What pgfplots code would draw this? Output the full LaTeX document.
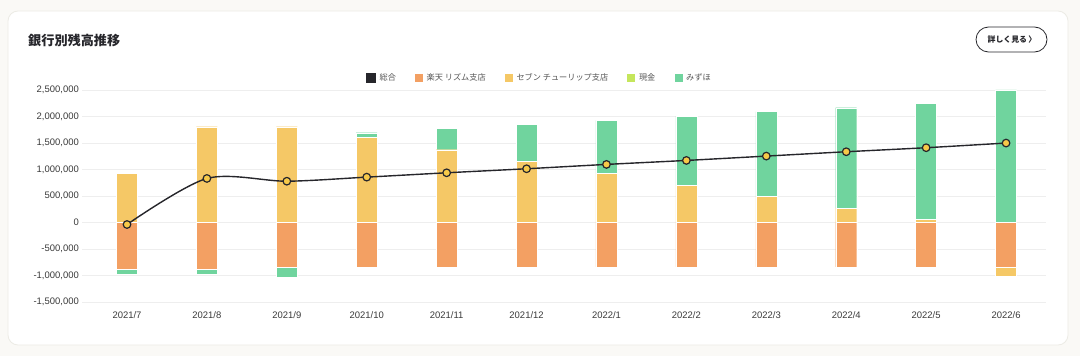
\documentclass[border=0pt]{standalone}
\usepackage{pgfplots}
\pgfplotsset{compat=1.18}
\usepackage{fontspec}
\setmainfont{Liberation Sans}
\newfontfamily\jp{Noto Sans CJK JP}
\definecolor{orng}{HTML}{F3A063}
\definecolor{yel}{HTML}{F5C866}
\definecolor{grn}{HTML}{70D49E}
\definecolor{lime}{HTML}{C5E65C}
\definecolor{darkc}{HTML}{26262B}
\definecolor{mk}{HTML}{F7C948}
\definecolor{gridc}{HTML}{EEEEEE}
\definecolor{tickc}{HTML}{3A3A3A}
\definecolor{legc}{HTML}{555555}
\definecolor{bgc}{HTML}{FAF9F6}
\definecolor{cardb}{HTML}{ECEBE5}
\pgfplotsset{
  base/.style={
    width=964bp, height=212bp, scale only axis,
    at={(82bp,54bp)}, anchor=south west,
    xmin=-0.563, xmax=11.5, ymin=-1500000, ymax=2500000,
    enlargelimits=false,
  },
  barbase/.style={base, ybar stacked, bar width=21bp},
}
\begin{document}
\begin{tikzpicture}[x=1bp,y=1bp]
\fill[bgc] (0,0) rectangle (1080,356);
\useasboundingbox (0,0) rectangle (1080,356);
\filldraw[fill=white, draw=cardb, line width=0.8bp, rounded corners=10bp] (8,11) rectangle (1068,345);
\node[anchor=west, inner sep=0pt, font=\jp\bfseries\fontsize{13.2}{15}\selectfont, text=darkc] at (28,316) {銀行別残高推移};
\draw[rounded corners=12.5bp, line width=0.8bp, color=darkc] (976,304) rectangle (1047,329);
\node[inner sep=0pt, font=\jp\bfseries\fontsize{7.9}{9}\selectfont, text=darkc] at (1012,316.5) {詳しく見る\hspace{1.5bp}〉};

% positive parts
\begin{axis}[barbase,
  axis line style={draw=none}, major tick style={draw=none},
  ymajorgrids, grid style={gridc, line width=0.7bp},
  ytick={-1500000,-1000000,-500000,0,500000,1000000,1500000,2000000,2500000},
  xtick={0,1,2,3,4,5,6,7,8,9,10,11},
  xticklabels={2021/7,2021/8,2021/9,2021/10,2021/11,2021/12,2022/1,2022/2,2022/3,2022/4,2022/5,2022/6},
  scaled y ticks=false,
  /pgf/number format/fixed, /pgf/number format/1000 sep={,}, /pgf/number format/assume math mode=true,
  ticklabel style={font=\fontsize{9.5}{11}\selectfont, text=tickc},
  yticklabel style={inner sep=0pt, xshift=-3bp},
  xticklabel style={inner sep=0pt, yshift=-9bp},
]
\addplot[fill=yel, draw=white, line width=0.4bp] coordinates {(0,932000) (1,1807000) (2,1807000) (3,1600000) (4,1373000) (5,1159000) (6,926000) (7,705000) (8,497000) (9,271000) (10,57000) (11,0)};
\addplot[fill=grn, draw=white, line width=0.4bp] coordinates {(0,0) (1,0) (2,0) (3,94000) (4,403000) (5,692000) (6,1001000) (7,1304000) (8,1594000) (9,1895000) (10,2191000) (11,2500000)};
\end{axis}

% negative parts
\begin{axis}[barbase, hide axis]
\addplot[fill=orng, draw=white, line width=0.4bp] coordinates {(0,-887000) (1,-887000) (2,-836000) (3,-836000) (4,-836000) (5,-836000) (6,-836000) (7,-836000) (8,-836000) (9,-836000) (10,-836000) (11,-836000)};
\addplot[fill=grn, draw=white, line width=0.4bp] coordinates {(0,-88000) (1,-88000) (2,-203000) (3,0) (4,0) (5,0) (6,0) (7,0) (8,0) (9,0) (10,0) (11,0)};
\addplot[fill=yel, draw=white, line width=0.4bp] coordinates {(0,0) (1,0) (2,0) (3,0) (4,0) (5,0) (6,0) (7,0) (8,0) (9,0) (10,0) (11,-172000)};
\end{axis}

% total line and legend
\begin{axis}[base, hide axis,
  legend style={at={(0.474,1.058)}, anchor=center, draw=none, fill=none,
    font=\jp\fontsize{8.2}{9}\selectfont, text=legc, legend columns=-1,
    /tikz/every odd column/.append style={column sep=3bp},
    /tikz/every even column/.append style={column sep=18bp},
    nodes={inner sep=1.2bp}, inner sep=0pt},
  legend cell align=left,
]
\addlegendimage{legend image code/.code={\fill[darkc] (0bp,-4.5bp) rectangle (9bp,4.5bp);}}
\addlegendentry{総合}
\addlegendimage{legend image code/.code={\fill[orng] (0bp,-3.5bp) rectangle (7bp,3.5bp);}}
\addlegendentry{楽天 リズム支店}
\addlegendimage{legend image code/.code={\fill[yel] (0bp,-3.5bp) rectangle (7bp,3.5bp);}}
\addlegendentry{セブン チューリップ支店}
\addlegendimage{legend image code/.code={\fill[lime] (0bp,-3.5bp) rectangle (7bp,3.5bp);}}
\addlegendentry{現金}
\addlegendimage{legend image code/.code={\fill[grn] (0bp,-3.5bp) rectangle (7bp,3.5bp);}}
\addlegendentry{みずほ}
\addplot[forget plot, smooth, color=darkc, line width=1.4bp, mark=*, mark size=3.8bp,
  mark options={fill=mk, draw=darkc, line width=1.2bp}] coordinates {(0,-38000) (1,831000) (2,779000) (3,856000) (4,938000) (5,1014000) (6,1096000) (7,1171000) (8,1253000) (9,1335000) (10,1411000) (11,1499000)};
\end{axis}
\end{tikzpicture}
\end{document}
